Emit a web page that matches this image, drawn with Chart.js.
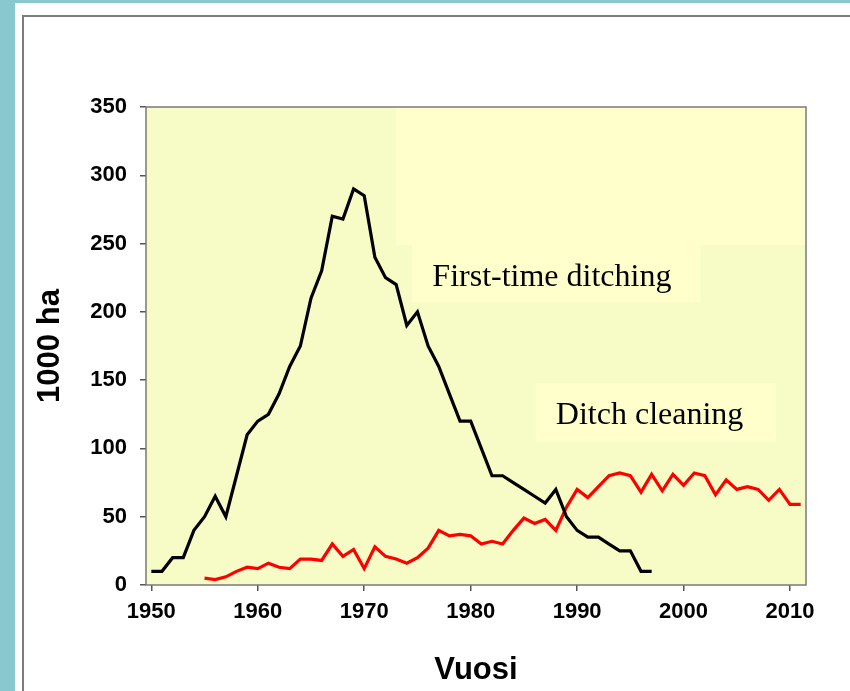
<!DOCTYPE html>
<html>
<head>
<meta charset="utf-8">
<script src="https://cdn.jsdelivr.net/npm/chart.js@4/dist/chart.umd.min.js"></script>
<style>
  html, body { margin: 0; padding: 0; width: 850px; height: 691px; overflow: hidden; background: #89c8cf; }
  #panel { position: absolute; left: 15px; top: 3px; width: 835px; height: 688px; background: #ffffff; }
  #frame { position: absolute; left: 22px; top: 15px; width: 840px; height: 690px; border-left: 2px solid #7c7c7c; border-top: 2px solid #7c7c7c; }
  #wrap { position: absolute; left: 0; top: 0; width: 850px; height: 691px; }
</style>
</head>
<body>
<div id="panel"></div>
<div id="frame"></div>
<div id="wrap"><canvas id="c" width="850" height="691"></canvas></div>
<script>
// ---- data ----
const yearsDitching = [1950,1951,1952,1953,1954,1955,1956,1957,1958,1959,
  1960,1961,1962,1963,1964,1965,1966,1967,1968,1969,
  1970,1971,1972,1973,1974,1975,1976,1977,1978,1979,
  1980,1981,1982,1983,1984,1985,1986,1987,1988,1989,
  1990,1991,1992,1993,1994,1995,1996,1997];
const firstTimeDitching = [10,10,20,20,40,50,65,50,80,110,
  120,125,140,160,175,210,230,270,268,290,
  285,240,225,220,190,200,175,160,140,120,
  120,100,80,80,75,70,65,60,70,50,
  40,35,35,30,25,25,10,10];

const yearsCleaning = [1955,1956,1957,1958,1959,
  1960,1961,1962,1963,1964,1965,1966,1967,1968,1969,
  1970,1971,1972,1973,1974,1975,1976,1977,1978,1979,
  1980,1981,1982,1983,1984,1985,1986,1987,1988,1989,
  1990,1991,1992,1993,1994,1995,1996,1997,1998,1999,
  2000,2001,2002,2003,2004,2005,2006,2007,2008,2009,
  2010,2011];
const ditchCleaning = [5,4,6,10,13,
  12,16,13,12,19,19,18,30,21,26,
  12,28,21,19,16,20,27,40,36,37,
  36,30,32,30,40,49,45,48,40,57,
  70,64,72,80,82,80,68,81,69,81,
  73,82,80,66,77,70,72,70,62,70,
  59,59];

const xTickLabels = [1950,1960,1970,1980,1990,2000,2010];
const yTickLabels = [0,50,100,150,200,250,300,350];
const seriesNames = ['First-time ditching', 'Ditch cleaning'];
const xTitle = 'Vuosi';
const yTitle = '1000 ha';

const toPoints = (xs, ys) => xs.map((x, i) => ({x: x, y: ys[i]}));

Chart.defaults.font.family = '"Liberation Sans", Arial, sans-serif';
Chart.defaults.color = '#000';

const decorPlugin = {
  id: 'decor',
  beforeDatasetsDraw(chart) {
    const {ctx, chartArea: a, scales: {x, y}} = chart;
    ctx.save();
    ctx.fillStyle = '#f7fbc6';
    ctx.fillRect(a.left, a.top, a.right - a.left, a.bottom - a.top);
    ctx.fillStyle = '#ffffcc';
    const box = (x0, x1, y0, y1) => {
      const px0 = x.getPixelForValue(x0), px1 = x.getPixelForValue(x1);
      const py0 = y.getPixelForValue(y0), py1 = y.getPixelForValue(y1);
      ctx.fillRect(px0, py1, px1 - px0, py0 - py1);
    };
    box(1973.0, 2011.5, 249, 350);
    box(1974.5, 2001.6, 207, 249);
    box(1986.1, 2008.7, 105, 148);
    ctx.fillStyle = '#000';
    ctx.font = '32px "Liberation Serif", "Times New Roman", serif';
    ctx.textBaseline = 'alphabetic';
    ctx.textAlign = 'left';
    ctx.fillText(seriesNames[0], x.getPixelForValue(1976.4), y.getPixelForValue(219));
    ctx.fillText(seriesNames[1], x.getPixelForValue(1988.0), y.getPixelForValue(118));
    ctx.restore();
  },
  afterDraw(chart) {
    const {ctx, chartArea: a} = chart;
    ctx.save();
    ctx.strokeStyle = '#7a7a7a';
    ctx.lineWidth = 1.5;
    ctx.strokeRect(a.left, a.top, a.right - a.left, a.bottom - a.top);
    ctx.restore();
  }
};

new Chart(document.getElementById('c'), {
  type: 'line',
  data: {
    datasets: [
      { label: seriesNames[0], data: toPoints(yearsDitching, firstTimeDitching),
        borderColor: '#000000', borderWidth: 3.2, pointRadius: 0, tension: 0, fill: false },
      { label: seriesNames[1], data: toPoints(yearsCleaning, ditchCleaning),
        borderColor: '#ff0000', borderWidth: 3.2, pointRadius: 0, tension: 0, fill: false }
    ]
  },
  options: {
    responsive: false,
    animation: false,
    events: [],
    layout: { padding: { top: 107, right: 44, left: 0, bottom: 0 } },
    plugins: { legend: { display: false }, tooltip: { enabled: false } },
    scales: {
      x: {
        type: 'linear', min: 1949.5, max: 2011.5,
        afterBuildTicks: s => { s.ticks = xTickLabels.map(v => ({value: v})); },
        afterFit: s => { s.height = 106; },
        border: { display: false },
        grid: { drawOnChartArea: false, drawTicks: true, tickLength: 6, color: '#555', lineWidth: 1.5 },
        ticks: { padding: 8, font: { size: 22, weight: 'bold' }, color: '#000', maxRotation: 0,
                 callback: v => String(v) },
        title: { display: true, text: xTitle, font: { size: 31, weight: 'bold' }, color: '#000',
                 padding: { top: 0, bottom: 2 } }
      },
      y: {
        type: 'linear', min: 0, max: 350,
        afterBuildTicks: s => { s.ticks = yTickLabels.map(v => ({value: v})); },
        afterFit: s => { s.width = 146; },
        border: { display: false },
        grid: { drawOnChartArea: false, drawTicks: true, tickLength: 6, color: '#555', lineWidth: 1.5 },
        ticks: { padding: 13, font: { size: 22, weight: 'bold' }, color: '#000' },
        title: { display: true, text: yTitle, font: { size: 31, weight: 'bold' }, color: '#000',
                 padding: { top: 32, bottom: 0 } }
      }
    }
  },
  plugins: [decorPlugin]
});
</script>
</body>
</html>
